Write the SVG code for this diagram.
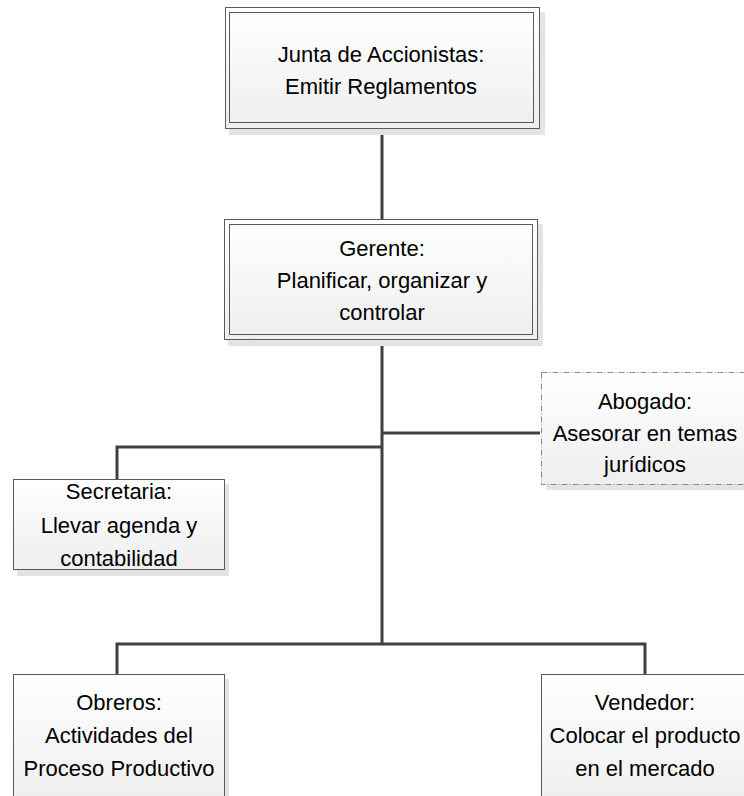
<svg xmlns="http://www.w3.org/2000/svg" width="744" height="796" viewBox="0 0 744 796">
<defs>
<linearGradient id="g" x1="0" y1="0" x2="0" y2="1">
<stop offset="0" stop-color="#ffffff"/>
<stop offset="1" stop-color="#eeeeee"/>
</linearGradient>
<style>
.sh{fill:#e3e3e3;stroke:none}
.box{fill:url(#g);stroke:#5a5a5a;stroke-width:1}
.inner{fill:none;stroke:#5a5a5a;stroke-width:1}
.dash{fill:url(#g);stroke:#8a8a8a;stroke-width:1;stroke-dasharray:6 2 1 2}
.t{font-family:"Liberation Sans",Arial,sans-serif;font-size:22px;fill:#000;text-anchor:middle}
.c{fill:none;stroke:#404040;stroke-width:3}
</style>
</defs>
<rect width="744" height="796" fill="#ffffff"/>
<g id="connectors">
<path class="c" d="M382 128V219"/>
<path class="c" d="M382 339V644"/>
<path class="c" d="M382 433H540"/>
<path class="c" d="M382 447H117V479"/>
<path class="c" d="M117 674V644H645V674"/>
</g>
<g id="junta">
<rect class="sh" x="229" y="12" width="316" height="123"/>
<rect class="box" x="225.5" y="7.5" width="314" height="121"/>
<rect class="inner" x="229.5" y="12.5" width="304" height="110"/>
<text class="t" x="381" y="62">Junta de Accionistas:</text>
<text class="t" x="381" y="94">Emitir Reglamentos</text>
</g>
<g id="gerente">
<rect class="sh" x="228" y="224" width="315" height="122"/>
<rect class="box" x="224.5" y="219.5" width="313" height="120"/>
<rect class="inner" x="229.5" y="224.5" width="303" height="110"/>
<text class="t" x="382" y="256">Gerente:</text>
<text class="t" x="382" y="288">Planificar, organizar y</text>
<text class="t" x="382" y="320">controlar</text>
</g>
<g id="abogado">
<rect class="sh" x="546" y="377" width="210" height="113"/>
<rect class="dash" x="541.5" y="372.5" width="210" height="112"/>
<text class="t" x="645" y="409">Abogado:</text>
<text class="t" x="645" y="441">Asesorar en temas</text>
<text class="t" x="645" y="472">jurídicos</text>
</g>
<g id="secretaria">
<rect class="sh" x="17" y="484" width="212" height="92"/>
<rect class="box" x="13.5" y="479.5" width="211" height="90"/>
<text class="t" x="119" y="499">Secretaria:</text>
<text class="t" x="119" y="533">Llevar agenda y</text>
<text class="t" x="119" y="566">contabilidad</text>
</g>
<g id="obreros">
<rect class="sh" x="17" y="679" width="212" height="130"/>
<rect class="box" x="13.5" y="674.5" width="211" height="130"/>
<text class="t" x="119" y="710">Obreros:</text>
<text class="t" x="119" y="743">Actividades del</text>
<text class="t" x="119" y="776">Proceso Productivo</text>
</g>
<g id="vendedor">
<rect class="sh" x="546" y="679" width="210" height="130"/>
<rect class="box" x="541.5" y="674.5" width="210" height="130"/>
<text class="t" x="645" y="710">Vendedor:</text>
<text class="t" x="645" y="743">Colocar el producto</text>
<text class="t" x="645" y="776">en el mercado</text>
</g>
</svg>
